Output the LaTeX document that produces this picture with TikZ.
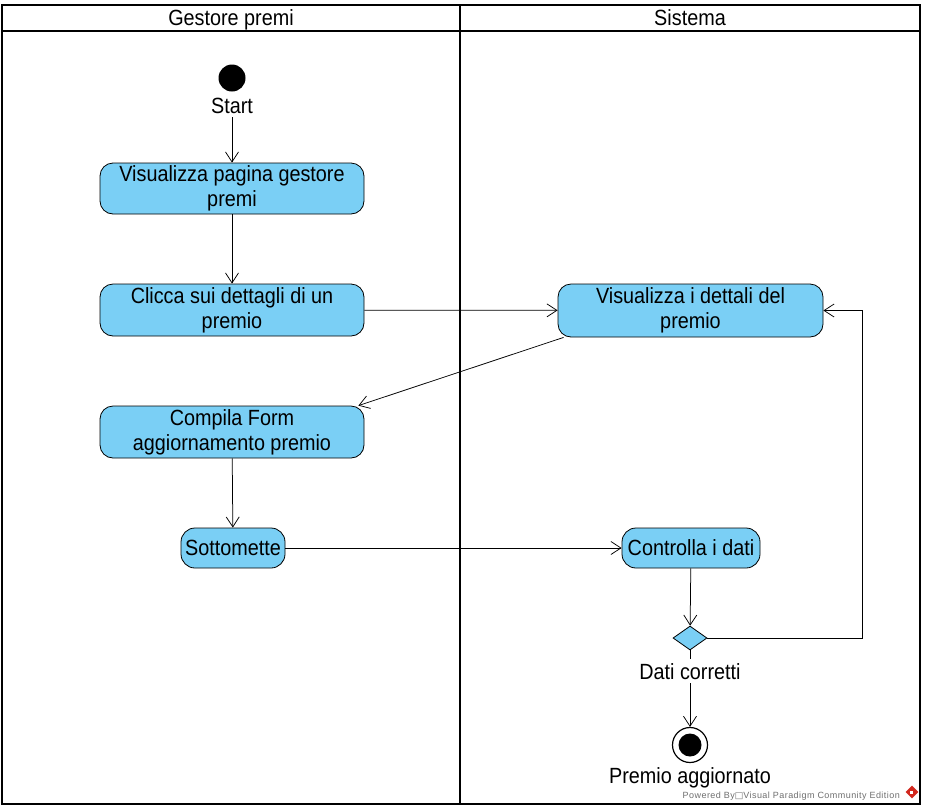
\documentclass[tikz,border=0pt]{standalone}
\usepackage{fontspec}
\setmainfont{Liberation Sans}[FakeStretch=0.9]
\newfontfamily\wmfont{Liberation Sans}[LetterSpace=5]
\newfontfamily\dejavu{DejaVu Sans}
\usetikzlibrary{arrows.meta,shapes.geometric}
\definecolor{vpblue}{RGB}{122,207,245}
\definecolor{wmgray}{RGB}{110,110,110}
\definecolor{vpred}{RGB}{210,40,30}
\tikzset{
  act/.style={draw=black, fill=vpblue, rounded corners=13pt, align=center,
    font=\fontsize{22}{25}\selectfont, inner sep=0pt, line width=0.8pt},
  lbl/.style={font=\fontsize{22}{23}\selectfont, inner sep=4pt, anchor=base},
  flow/.style={draw=black, line width=0.75pt, -{Straight Barb[length=10pt,width=13pt,line width=0.75pt]}},
  plain/.style={draw=black, line width=0.75pt},
  lane/.style={draw=black, line width=2pt},
}
\begin{document}
\begin{tikzpicture}[x=1pt,y=-1pt]
\useasboundingbox (0,0) rectangle (925,809);
% swimlanes
\draw[lane] (2,5) rectangle (920,804);
\draw[lane] (2,31) -- (920,31);
\draw[lane] (460,5) -- (460,804);
\node[lbl] (h1) at (231,25) {Gestore premi};
\node[lbl] (h2) at (690,25) {Sistema};
% start
\node[circle, fill=black, minimum size=27pt, inner sep=0pt] (start) at (232,78) {};
\node[lbl] (startlbl) at (232,113) {Start};
% activities
\node[act, minimum width=264pt, minimum height=51pt] (n1) at (232,188.5) {Visualizza pagina gestore\\premi};
\node[act, minimum width=264pt, minimum height=52pt] (n2) at (232,310) {Clicca sui dettagli di un\\premio};
\node[act, minimum width=265pt, minimum height=53pt] (n3) at (690.5,310.5) {Visualizza i dettali del\\premio};
\node[act, minimum width=264pt, minimum height=52pt] (n4) at (232,432) {Compila Form\\aggiornamento premio};
\node[act, minimum width=104pt, minimum height=40pt, rounded corners=14pt] (n5) at (233,548) {Sottomette};
\node[act, minimum width=138pt, minimum height=40pt, rounded corners=14pt] (n6) at (691,548) {Controlla i dati};
% decision
\node[diamond, draw=black, fill=vpblue, line width=0.8pt, inner sep=0pt, minimum width=34pt, minimum height=24pt] (dec) at (690,638) {};
\node[lbl] (declbl) at (690,679) {Dati corretti};
% end
\node[circle, draw=black, fill=white, line width=1.2pt, minimum size=35pt, inner sep=0pt] (end) at (690,745) {};
\fill[black] (end.center) circle (11.5pt);
\node[lbl] (endlbl) at (690,783) {Premio aggiornato};
% connectors
\draw[flow] (startlbl.south) -- (n1.north);
\draw[flow] (n1) -- (n2);
\draw[flow] (n2) -- (n3);
\draw[flow] ([xshift=6pt]n3.south west) -- ([xshift=-6pt]n4.north east);
\draw[flow] (n4) -- (n5);
\draw[flow] (n5) -- (n6);
\draw[flow] (n6) -- (dec);
\coordinate (loopc) at (862,310.5);
\draw[flow] (dec.east) -| (loopc) -- (n3.east);
\draw[plain] (dec.south) -- (declbl.north);
\draw[flow] (declbl.south) -- (end.north);
% watermark
\node[anchor=base east, inner sep=0pt, text=wmgray, font=\wmfont\fontsize{9}{9}\selectfont] (wm) at (900,798) {Powered By{\dejavu □}Visual Paradigm Community Edition};
\node[diamond, fill=vpred, inner sep=0pt, minimum size=13pt] (logo) at (912,792) {};
\fill[white] (logo.center) ++(-2,-1) rectangle ++(3,3);
\end{tikzpicture}
\end{document}
